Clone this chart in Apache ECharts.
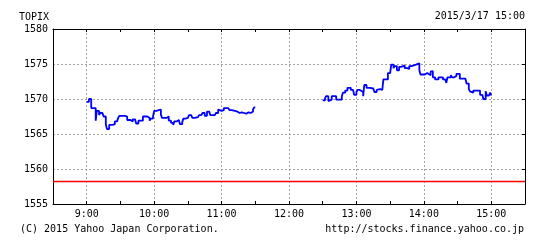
<!DOCTYPE html>
<html>
<head>
<meta charset="utf-8">
<script src="https://cdn.jsdelivr.net/npm/echarts@6/dist/echarts.min.js"></script>
<style>
html,body{margin:0;padding:0;background:#fff;}
#c{width:554px;height:245px;}
</style>
</head>
<body>
<div id="c"></div>
<script>
// ---- data ----
const amTimes = ["9:00","9:02","9:04","9:08","9:09","9:11","9:12","9:14","9:15","9:17","9:18","9:20","9:23","9:25","9:27","9:28","9:29","9:34","9:36","9:39","9:41","9:43","9:44","9:46","9:50","9:54","9:56","9:57","9:59","10:00","10:02","10:06","10:07","10:11","10:13","10:15","10:17","10:18","10:20","10:22","10:23","10:25","10:26","10:28","10:30","10:31","10:33","10:34","10:36","10:37","10:39","10:40","10:42","10:43","10:45","10:47","10:49","10:50","10:54","10:55","10:57","10:58","11:00","11:02","11:06","11:07","11:09","11:12","11:14","11:16","11:18","11:20","11:22","11:24","11:26","11:28","11:29","11:30"];
const amValues = [1569.6,1570.0,1568.7,1566.9,1568.3,1567.7,1568.0,1567.8,1567.5,1566.4,1565.7,1566.3,1566.4,1566.8,1566.6,1567.3,1567.6,1567.5,1567.0,1566.8,1567.1,1567.2,1566.5,1566.9,1567.5,1567.3,1566.9,1567.2,1567.5,1568.3,1568.5,1567.8,1567.3,1567.5,1566.9,1566.6,1566.3,1566.8,1567.0,1566.9,1566.4,1566.7,1567.2,1567.3,1567.1,1567.7,1567.5,1567.3,1567.5,1567.4,1567.3,1567.7,1567.6,1568.0,1567.6,1568.2,1568.0,1567.7,1567.8,1568.0,1568.5,1568.3,1568.4,1568.7,1568.8,1568.4,1568.3,1568.2,1568.0,1568.1,1568.0,1567.9,1568.1,1568.0,1568.2,1568.5,1568.8,1568.8];
const pmTimes = ["12:30","12:32","12:33","12:35","12:36","12:38","12:42","12:47","12:48","12:50","12:52","12:55","12:57","12:58","13:00","13:01","13:03","13:04","13:06","13:07","13:09","13:12","13:15","13:16","13:18","13:19","13:21","13:23","13:24","13:28","13:30","13:31","13:33","13:34","13:36","13:38","13:40","13:43","13:45","13:47","13:49","13:50","13:53","13:56","13:57","14:01","14:03","14:04","14:06","14:07","14:08","14:10","14:13","14:17","14:19","14:20","14:21","14:24","14:25","14:27","14:28","14:29","14:32","14:37","14:38","14:40","14:41","14:42","14:44","14:50","14:52","14:53","14:55","14:56","14:58","14:59","15:00"];
const pmValues = [1569.8,1570.1,1570.4,1569.7,1569.9,1570.4,1569.9,1570.4,1570.9,1571.2,1571.6,1571.3,1571.1,1570.6,1571.0,1571.3,1571.1,1571.0,1570.4,1572.0,1571.6,1571.5,1571.4,1571.0,1571.3,1571.4,1571.3,1571.4,1572.8,1573.7,1573.8,1574.9,1574.4,1574.7,1574.1,1574.6,1574.8,1574.4,1574.3,1574.7,1574.8,1574.9,1575.1,1574.1,1573.5,1573.7,1573.5,1573.4,1573.9,1574.0,1573.1,1572.8,1573.1,1572.8,1572.6,1572.3,1573.1,1573.4,1573.1,1572.9,1573.3,1573.6,1572.9,1572.8,1572.2,1571.4,1571.1,1570.9,1571.2,1570.6,1570.5,1570.0,1571.1,1570.5,1570.6,1570.9,1570.5];
const prevClose = 1558.21;
const yTicks = [1555,1560,1565,1570,1575,1580];
const xHourLabels = ["9:00","10:00","11:00","12:00","13:00","14:00","15:00"];
const titleText = "TOPIX";
const dateText = "2015/3/17 15:00";
const copyText = "(C) 2015 Yahoo Japan Corporation.";
const urlText = "http://stocks.finance.yahoo.co.jp";

// ---- helpers ----
function toMin(s){const p=s.split(':');return (+p[0])*60+(+p[1]);}
function pairs(ts,vs){return ts.map((t,i)=>[toMin(t),vs[i]]);}

const FONT = '"DejaVu Sans Mono", "Liberation Mono", monospace';
const chart = echarts.init(document.getElementById('c'), null, {renderer:'canvas'});
const lineStyle = {color:'#0000ff', width:1.8};
const frameLine = {show:true, lineStyle:{color:'#000', width:1}};
const xMin = toMin("8:30"), xMax = toMin("15:30");

const opt = {
  animation:false,
  backgroundColor:'#fff',
  textStyle:{fontFamily:FONT},
  grid:{left:53, top:29, width:472, height:175, containLabel:false},
  title:[
    {text:titleText, left:19, top:12, padding:0, textStyle:{fontFamily:FONT, fontSize:10, fontWeight:'normal', color:'#000'}},
    {text:dateText, right:29, top:11, padding:0, textStyle:{fontFamily:FONT, fontSize:10, fontWeight:'normal', color:'#000'}},
    {text:copyText, left:20, top:224, padding:0, textStyle:{fontFamily:FONT, fontSize:10, fontWeight:'normal', color:'#000'}},
    {text:urlText, right:30, top:224, padding:0, textStyle:{fontFamily:FONT, fontSize:10, fontWeight:'normal', color:'#000'}}
  ],
  xAxis:[
    {type:'value', position:'bottom', min:xMin, max:xMax, interval:30,
     axisLine:frameLine,
     axisTick:{show:true, inside:true, length:3, lineStyle:{color:'#000'}},
     axisLabel:{show:true, margin:5, fontFamily:FONT, fontSize:10, color:'#000',
       showMinLabel:false, showMaxLabel:false,
       formatter:v=>{ if(v%60!==0) return ''; const l=(v/60)+':00'; return xHourLabels.indexOf(l)>=0?l:''; }},
     splitLine:{show:true, showMinLine:false, showMaxLine:false, lineStyle:{color:['#a0a0a0','rgba(0,0,0,0)'], type:[2,2], width:1}}
    },
    {type:'value', position:'top', min:xMin, max:xMax, interval:30,
     axisLine:frameLine,
     axisTick:{show:true, inside:true, length:3, lineStyle:{color:'#000'}},
     axisLabel:{show:false}, splitLine:{show:false}}
  ],
  yAxis:[
    {type:'value', position:'left', min:yTicks[0], max:yTicks[yTicks.length-1], interval:5,
     axisLine:frameLine, axisTick:{show:false},
     axisLabel:{show:true, margin:5, fontFamily:FONT, fontSize:10, color:'#000', formatter:v=>String(v)},
     splitLine:{show:true, showMinLine:false, showMaxLine:false, lineStyle:{color:'#a0a0a0', type:[2,2], width:1}}
    },
    {type:'value', position:'right', min:yTicks[0], max:yTicks[yTicks.length-1], interval:5,
     axisLine:frameLine,
     axisTick:{show:true, inside:true, length:3, lineStyle:{color:'#000'}},
     axisLabel:{show:false}, splitLine:{show:false}}
  ],
  series:[
    {type:'line', xAxisIndex:0, yAxisIndex:0, showSymbol:false, symbol:'none', color:'#ff0000',
     itemStyle:{color:'#ff0000'},
     data:[[xMin,prevClose],[xMax,prevClose]], lineStyle:{color:'#ff0000', width:1.4, opacity:1}, z:2},
    {type:'line', xAxisIndex:0, yAxisIndex:0, step:'end', showSymbol:false, symbol:'none', color:'#0000ff',
     data:pairs(amTimes,amValues), lineStyle:lineStyle, z:3},
    {type:'line', xAxisIndex:0, yAxisIndex:0, step:'end', showSymbol:false, symbol:'none', color:'#0000ff',
     data:pairs(pmTimes,pmValues), lineStyle:lineStyle, z:3}
  ]
};
chart.setOption(opt);
</script>
</body>
</html>
